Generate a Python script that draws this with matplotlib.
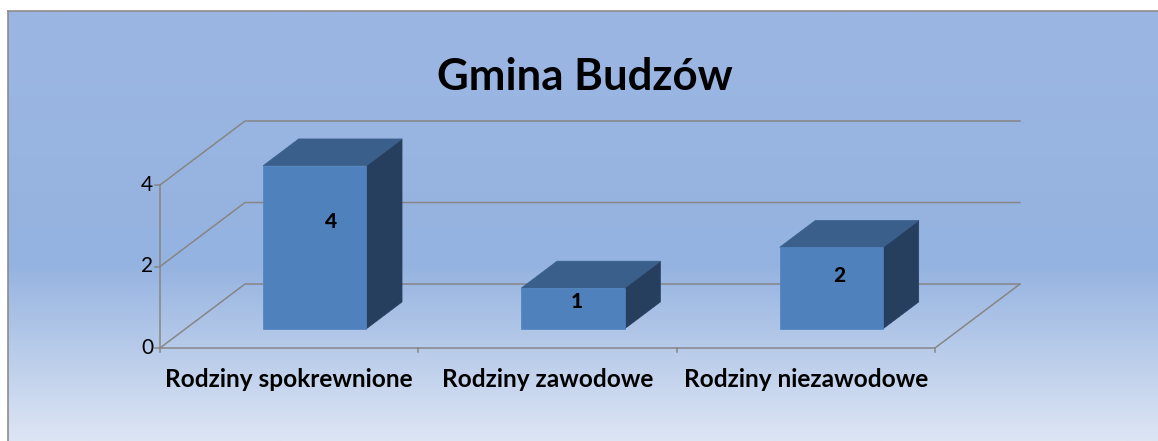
import numpy as np
import matplotlib
matplotlib.use("Agg")
import matplotlib.pyplot as plt
from matplotlib.colors import LinearSegmentedColormap
from matplotlib.patches import Polygon

plt.rcParams['font.family'] = ['Lato', 'DejaVu Sans']

title = "Gmina Budzów"
categories = ["Rodziny spokrewnione", "Rodziny zawodowe", "Rodziny niezawodowe"]
values = [4, 1, 2]
y_ticks = [0, 2, 4]

# pseudo-3d geometry (depth offset in data units)
DX, DY = 0.329, 1.57
BAR_W = 0.40
F0, F1 = 0.30, 0.72   # front / back depth of the bars

front_col = '#4f81bd'
top_col = '#3a5f8b'
side_col = '#273f5e'
grid_col = '#868686'

W, H = 1158, 441
fig = plt.figure(figsize=(W / 100, H / 100), dpi=100, facecolor='white')

# background gradient of the chart area
bg = fig.add_axes([8 / W, 0, 1 - 8 / W, (H - 11) / H])
cmap = LinearSegmentedColormap.from_list(
    'bg', [(0, '#9cb6e3'), (0.59, '#95b3e0'), (1.0, '#dde5f4')])
grad = np.linspace(0, 1, 256).reshape(-1, 1)
bg.imshow(grad, aspect='auto', cmap=cmap, extent=[0, 1, 1, 0])
bg.set_xlim(0, 1)
bg.set_ylim(1, 0)
bg.axis('off')
fig.add_artist(plt.Line2D([8 / W, 8 / W], [0, (H - 11) / H], color='#8c8c8c', lw=1.2))
fig.add_artist(plt.Line2D([8 / W, 1], [(H - 11) / H, (H - 11) / H], color='#8c8c8c', lw=1.2))

ax = fig.add_axes([160 / W, (H - 348) / H, 775 / W, 163 / H])
ax.set_xlim(0, len(categories))
ax.set_ylim(0, max(y_ticks))
ax.axis('off')


def P(x, v, d):
    return (x + d * DX, v + d * DY)


n = len(categories)
# walls: gridlines on back wall and side wall
for v in y_ticks:
    ax.plot(*zip(P(0, v, 0), P(0, v, 1), P(n, v, 1)), color=grid_col, lw=1.1,
            clip_on=False, zorder=1)
# floor right edge and front edge
ax.plot(*zip(P(n, 0, 1), P(n, 0, 0), P(0, 0, 0), P(0, max(y_ticks), 0)),
        color=grid_col, lw=1.1, clip_on=False, zorder=1)
# ticks
for v in y_ticks:
    ax.plot([-0.018, 0], [v, v], color=grid_col, lw=1.1, clip_on=False)
    ax.text(-0.027, v, str(v), ha='right', va='center', fontsize=15, color='black')
for i in range(n + 1):
    ax.plot([i, i], [0, -0.1], color=grid_col, lw=1.1, clip_on=False)

for i, (cat, v) in enumerate(zip(categories, values)):
    x0 = i + 0.5 - BAR_W / 2
    x1 = i + 0.5 + BAR_W / 2
    front = [P(x0, 0, F0), P(x1, 0, F0), P(x1, v, F0), P(x0, v, F0)]
    top = [P(x0, v, F0), P(x1, v, F0), P(x1, v, F1), P(x0, v, F1)]
    side = [P(x1, 0, F0), P(x1, 0, F1), P(x1, v, F1), P(x1, v, F0)]
    for poly, c in [(side, side_col), (top, top_col), (front, front_col)]:
        ax.add_patch(Polygon(poly, closed=True, facecolor=c, edgecolor=c, lw=0.5,
                             clip_on=False, zorder=3))
    lx, ly = P(i + 0.5 + 0.016 * v, 0.66 * v, F0)
    ax.text(lx, ly, str(v), ha='center', va='center', fontsize=15,
            fontweight='black', color='black', zorder=5)
    ax.text(i + 0.5, -0.77, cat, ha='center', va='center', fontsize=17.6,
            fontweight='bold', color='black')

fig.text(585 / W, (H - 77) / H, title, ha='center', va='center', fontsize=31.5,
         fontweight='bold', color='black')

fig.savefig('out.png', dpi=100)
